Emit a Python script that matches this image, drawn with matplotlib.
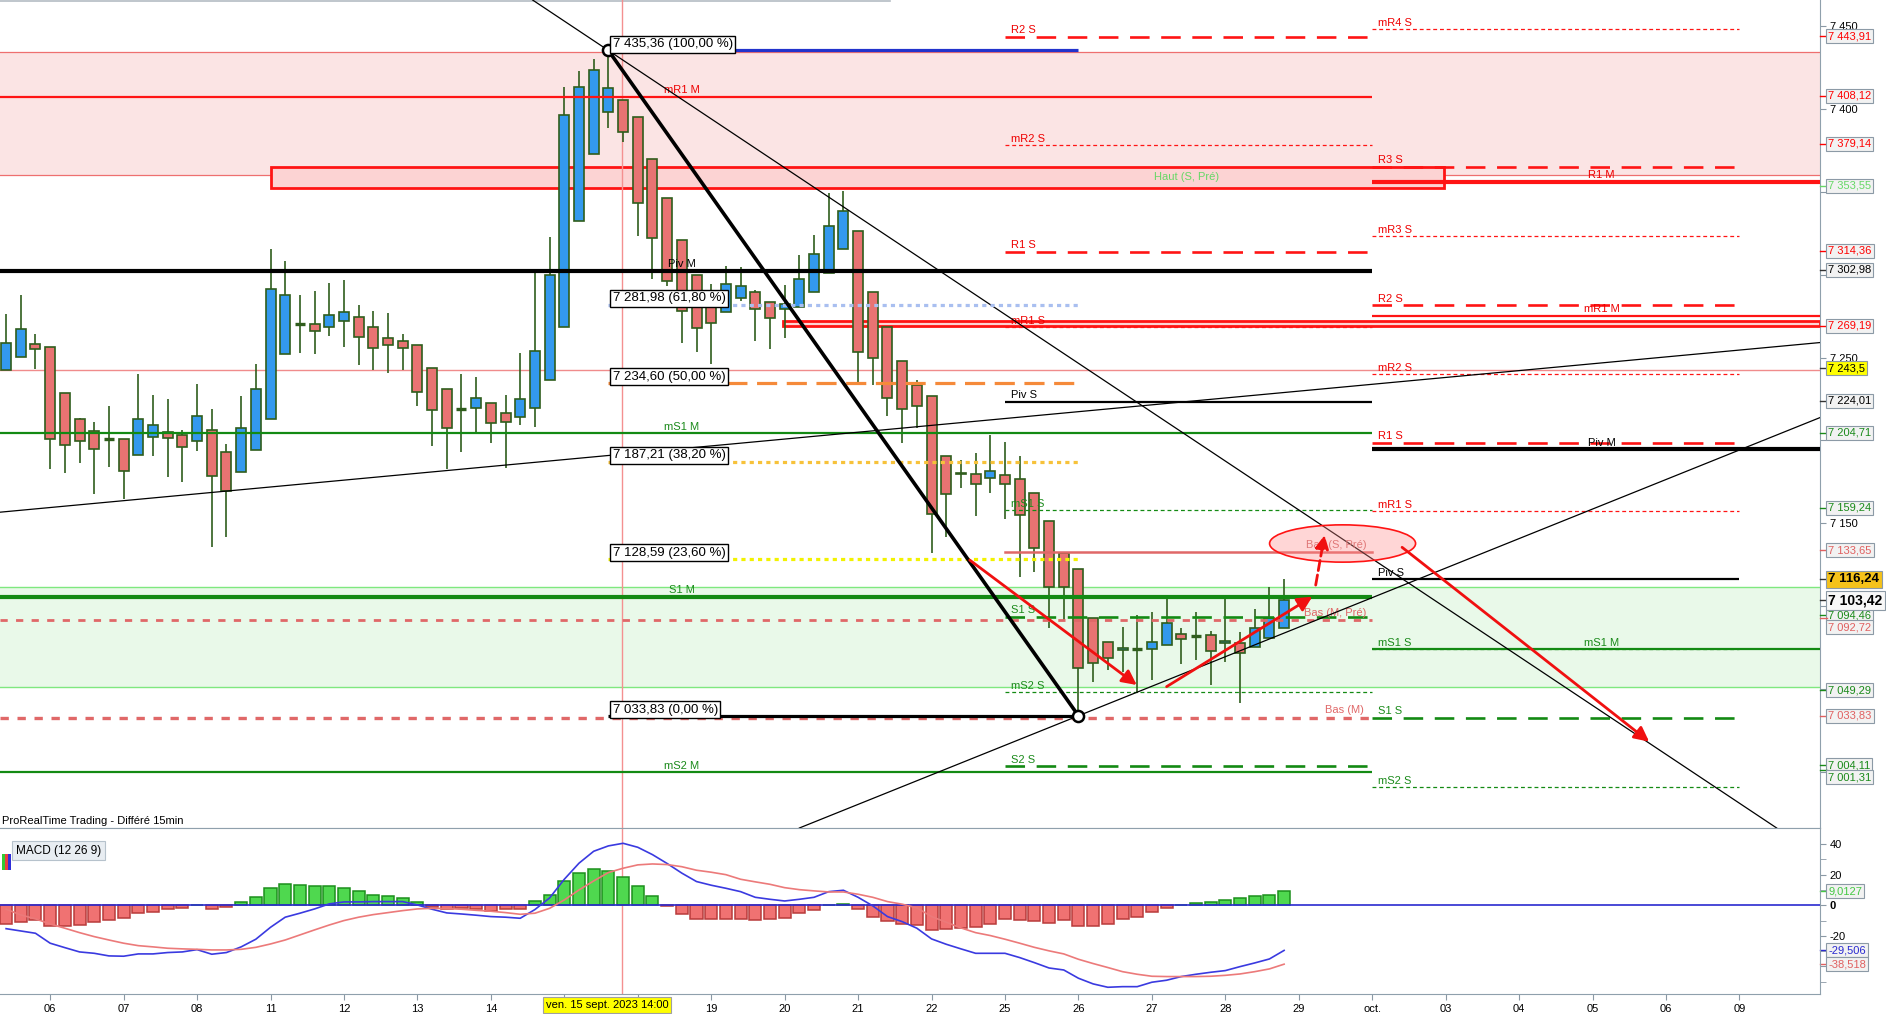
import numpy as np
import matplotlib
matplotlib.use("Agg")
import matplotlib.pyplot as plt
from matplotlib.patches import Rectangle, Ellipse
from matplotlib.transforms import blended_transform_factory as blend

plt.rcParams['font.family'] = ['Liberation Sans', 'DejaVu Sans']

# bougies : une barre = indice, 5 barres par jour
opens = [7242.5, 7250.1, 7258.4, 7256.6, 7228.4, 7212.7, 7205.9, 7200.8, 7200.6, 7191.0,
         7201.8, 7205.3, 7203.1, 7199.4, 7206.5, 7192.8, 7180.7, 7194.0, 7212.7, 7251.9,
         7270.2, 7270.0, 7268.2, 7271.8, 7274.3, 7268.2, 7261.6, 7259.8, 7257.4, 7243.5,
         7230.8, 7218.9, 7219.3, 7222.4, 7216.3, 7213.9, 7219.3, 7236.2, 7268.6, 7332.4,
         7372.7, 7398.2, 7405.4, 7395.4, 7369.6, 7346.1, 7320.9, 7299.6, 7281.3, 7277.3,
         7285.7, 7289.4, 7283.7, 7279.1, 7280.7, 7289.4, 7300.8, 7315.3, 7326.6, 7289.8,
         7268.6, 7247.7, 7233.2, 7226.6, 7190.6, 7179.5, 7179.9, 7177.1, 7178.9, 7176.5,
         7168.0, 7151.5, 7131.8, 7122.2, 7092.6, 7078.5, 7073.5, 7073.9, 7073.9, 7076.5,
         7082.9, 7081.9, 7082.3, 7077.5, 7077.9, 7075.5, 7080.5, 7086.6]
highs = [7276.1, 7287.7, 7264.2, 7256.6, 7228.4, 7213.3, 7210.9, 7220.8, 7200.6, 7240.1,
         7227.4, 7225.0, 7206.3, 7234.0, 7218.9, 7197.8, 7226.8, 7246.1, 7315.5, 7308.3,
         7287.7, 7290.2, 7295.0, 7296.8, 7281.7, 7278.1, 7277.1, 7264.0, 7257.4, 7243.5,
         7230.8, 7240.1, 7238.3, 7222.4, 7227.4, 7252.7, 7301.2, 7322.5, 7413.1, 7422.9,
         7430.0, 7435.36, 7405.4, 7395.4, 7369.6, 7346.1, 7320.9, 7299.6, 7294.4, 7305.2,
         7304.5, 7290.8, 7283.7, 7293.8, 7311.7, 7324.0, 7349.5, 7350.5, 7326.6, 7289.8,
         7268.6, 7247.7, 7236.4, 7226.6, 7190.6, 7188.2, 7192.2, 7203.1, 7199.0, 7190.8,
         7168.0, 7151.5, 7131.8, 7122.2, 7092.6, 7078.5, 7087.6, 7094.6, 7096.2, 7104.7,
         7086.6, 7096.6, 7085.2, 7104.7, 7084.6, 7098.0, 7111.7, 7116.24]
lows = [7242.5, 7250.1, 7242.9, 7182.5, 7180.5, 7186.2, 7167.4, 7184.1, 7164.6, 7191.0,
        7190.8, 7178.1, 7175.1, 7193.8, 7135.5, 7141.5, 7180.7, 7194.0, 7212.7, 7251.9,
        7252.9, 7252.3, 7263.2, 7256.6, 7245.5, 7242.5, 7240.9, 7242.5, 7221.0, 7196.8,
        7182.7, 7193.2, 7205.3, 7198.6, 7183.1, 7209.5, 7208.3, 7236.2, 7268.6, 7332.4,
        7372.7, 7388.8, 7380.0, 7323.6, 7297.2, 7293.0, 7258.6, 7253.6, 7245.9, 7277.3,
        7284.3, 7260.2, 7255.4, 7261.6, 7280.7, 7289.4, 7300.8, 7315.3, 7233.4, 7233.4,
        7214.7, 7198.2, 7207.3, 7132.2, 7141.9, 7171.5, 7154.6, 7168.4, 7152.4, 7117.8,
        7120.8, 7086.6, 7091.6, 7033.83, 7054.4, 7061.4, 7060.4, 7047.4, 7055.4, 7076.5,
        7065.0, 7067.5, 7052.4, 7066.5, 7041.3, 7075.5, 7080.5, 7086.6]
closes = [7258.6, 7267.0, 7255.2, 7200.6, 7197.0, 7199.4, 7194.6, 7200.8, 7181.3, 7212.7,
          7209.1, 7201.2, 7195.8, 7214.5, 7178.3, 7169.5, 7207.3, 7230.8, 7291.2, 7287.5,
          7270.2, 7265.8, 7275.5, 7277.3, 7262.2, 7255.6, 7257.4, 7255.8, 7229.0, 7218.1,
          7207.3, 7218.9, 7225.4, 7210.3, 7210.9, 7224.8, 7253.7, 7299.6, 7396.2, 7413.5,
          7423.3, 7412.5, 7386.3, 7343.1, 7321.9, 7296.2, 7278.1, 7267.6, 7270.6, 7294.2,
          7293.0, 7279.1, 7273.7, 7282.3, 7297.6, 7312.7, 7329.6, 7338.2, 7253.4, 7249.5,
          7225.4, 7218.7, 7220.8, 7155.6, 7167.4, 7180.5, 7173.5, 7181.3, 7173.5, 7155.0,
          7134.9, 7111.7, 7111.7, 7062.4, 7065.4, 7068.5, 7074.5, 7073.9, 7078.5, 7090.0,
          7079.9, 7081.9, 7072.9, 7079.1, 7071.9, 7086.6, 7092.6, 7103.42]

# MACD (12 26 9)
macd_line = [-15.3, -16.8, -18.3, -24.8, -27.7, -30.5, -31.4, -33.1, -33.3, -31.8,
             -31.8, -30.9, -30.5, -29.0, -32.0, -30.9, -27.2, -22.2, -14.4, -7.8,
             -5.2, -2.4, 0.9, 2.2, 2.2, 2.4, 2.4, 2.4, 0.2, -2.6,
             -5.0, -5.7, -6.5, -7.4, -7.8, -8.5, -2.8, 4.8, 17.0, 27.5,
             35.3, 38.8, 40.5, 37.9, 33.1, 27.3, 21.0, 15.5, 13.1, 11.1,
             8.9, 5.2, 3.9, 2.8, 3.9, 5.2, 8.9, 9.8, 5.2, -0.4,
             -7.4, -10.7, -15.0, -22.0, -25.5, -28.5, -31.4, -31.4, -31.4, -34.2,
             -37.5, -41.0, -42.3, -47.7, -51.4, -53.6, -53.2, -53.2, -50.3, -49.0,
             -46.6, -45.1, -43.8, -42.7, -40.1, -37.7, -35.1, -29.5]
signal_line = [-2.6, -6.3, -8.9, -12.2, -15.0, -17.9, -20.5, -22.7, -24.8, -26.4,
               -27.2, -28.1, -28.5, -28.8, -29.2, -29.2, -28.8, -27.5, -25.3, -22.7,
               -19.4, -16.1, -12.9, -10.0, -7.8, -6.1, -4.8, -3.5, -2.4, -2.0,
               -2.2, -2.6, -3.3, -3.9, -4.8, -5.9, -5.2, -2.0, 3.5, 10.0,
               15.9, 21.4, 24.2, 26.4, 27.0, 26.6, 25.2, 22.9, 21.6, 20.0,
               17.0, 15.3, 13.7, 11.5, 10.2, 9.4, 8.7, 8.7, 7.2, 5.2,
               2.4, 0.7, -1.7, -7.4, -11.1, -14.8, -17.9, -19.8, -22.2, -24.8,
               -27.5, -29.8, -31.8, -35.3, -38.1, -40.7, -43.4, -45.1, -46.4, -46.6,
               -46.6, -46.6, -46.4, -45.8, -44.9, -43.4, -41.6, -38.5]
macd_hist = [-12.4, -11.1, -9.6, -13.3, -13.3, -13.1, -11.1, -9.8, -8.5, -5.2,
             -4.6, -2.6, -2.0, 0.0, -2.6, -1.3, 2.2, 5.2, 11.1, 13.9,
             13.1, 12.6, 12.4, 11.1, 9.2, 6.5, 5.9, 4.6, 2.2, -1.1,
             -2.6, -2.0, -2.6, -3.5, -2.6, -2.6, 2.8, 6.5, 15.9, 20.9,
             23.5, 22.2, 18.3, 12.4, 5.9, -0.7, -5.9, -8.7, -8.7, -8.7,
             -8.7, -9.4, -8.7, -8.1, -5.2, -3.3, 0.0, 0.7, -2.6, -7.4,
             -10.5, -12.0, -12.6, -16.3, -15.7, -14.6, -13.9, -12.0, -9.2, -9.8,
             -10.5, -11.3, -9.8, -13.3, -13.3, -12.0, -9.2, -7.4, -4.1, -2.0,
             0.0, 1.3, 2.0, 3.3, 4.6, 5.9, 6.5, 9.0]

# jours (15 et 18 sont caches par l'etiquette du curseur)
day_labels = ['06', '07', '08', '11', '12', '13', '14', '', '', '19', '20', '21',
              '22', '25', '26', '27', '28', '29', 'oct.', '03', '04', '05', '06', '09']
first_day_bar = 3
bars_per_day = 5
cursor_bar = 41.9
cursor_text = 'ven. 15 sept. 2023 14:00'

# Fibonacci (du plus haut au plus bas)
fib_bars = [41, 73]
fib_prices = [7435.36, 7281.98, 7234.60, 7187.21, 7128.59, 7033.83]
fib_pcts = [100.0, 61.8, 50.0, 38.2, 23.6, 0.0]

# pivots mensuels / hebdomadaires
month_names_left = ['mR1 M', 'Piv M', 'mS1 M', 'S1 M', 'mS2 M']
month_levels_left = [7407.4, 7302.4, 7204.3, 7105.7, 7000.0]
month_names_right = ['R1 M', 'mR1 M', 'Piv M', 'mS1 M']
month_levels_right = [7356.1, 7275.3, 7194.6, 7074.1]
week_names_left = ['R2 S', 'mR2 S', 'R1 S', 'mR1 S', 'Piv S', 'mS1 S', 'S1 S', 'mS2 S', 'S2 S']
week_levels_left = [7443.6, 7378.3, 7313.9, 7268.3, 7223.4, 7158.0, 7093.6, 7047.9, 7003.3]
week_names_right = ['mR4 S', 'R3 S', 'mR3 S', 'R2 S', 'mR2 S', 'R1 S', 'mR1 S', 'Piv S',
                    'mS1 S', 'S1 S', 'mS2 S']
week_levels_right = [7448.1, 7365.2, 7323.4, 7281.7, 7240.1, 7198.6, 7157.2, 7116.2,
                     7074.1, 7032.7, 6990.6]
month_split = 93
week_start = 68
week_end = 118

bas_m = 7032.7
bas_m_pre = 7091.4
bas_s_pre = 7132.8
haut_s_pre = [7352.5, 7365.2]
haut_bars = [18, 97.9]
red_zone = [7269.0, 7272.2]
red_zone_start = 52.9
resist_zone = [7360.2, 7434.2]
support_zone = [7051.4, 7111.3]
thin_level = 7242.5

# droites de tendance (barre, prix)
trend_down = [(41, 7435.36), (118.7, 6976.9)]
trend_wedge = [(-0.4, 7156.7), (123.4, 7259.0)]
trend_up = [(73, 7033.83), (123.4, 7213.5)]

# fleches rouges
arrows = [((65.6, 7127.8), (76.97, 7052.4)),
          ((79.0, 7051.4), (88.92, 7105.7)),
          ((95.03, 7135.5), (111.85, 7018.2))]
dashed_arrow = ((89.15, 7112.7), (89.75, 7142.9))
ellipse_center = (90.98, 7137.8)
ellipse_size = (9.94, 22.5)

# etiquettes de l'axe des prix
axis_marks = [7443.91, 7408.12, 7379.14, 7353.55, 7314.36, 7302.98, 7269.19, 7243.5,
              7224.01, 7204.71, 7159.24, 7133.65, 7116.24, 7103.42, 7094.46, 7092.72,
              7049.29, 7033.83, 7004.11, 7001.31]
axis_kinds = ['r', 'r', 'r', 'h', 'r', 'k', 'r', 'y', 'k', 'g', 'g', 'p', 'o', 'last',
              'g', 'p', 'g', 'p', 'g', 'g']
price_ticks = [7000, 7050, 7100, 7150, 7200, 7250, 7300, 7350, 7400, 7450]
price_ticks_shown = [7150, 7250, 7400, 7450]
macd_marks = [9.0127, -29.506, -38.518]
macd_kinds = ['hist', 'macd', 'signal']

RED = '#ff1414'
GREEN = '#138a13'
PINK = '#e06868'
EDGE = '#2f5d1c'
BLUE_C = '#3399ee'
RED_C = '#e87372'


def fr(v, dec=2):
    return f"{v:,.{dec}f}".replace(',', ' ').replace('.', ',')


fig = plt.figure(figsize=(18.86, 10.14), dpi=100)
H = 1014.0
W = 1886.0
ax = fig.add_axes([0, 1 - 828 / H, 1820 / W, 828 / H])
ax2 = fig.add_axes([0, 1 - 994 / H, 1820 / W, 166 / H], sharex=ax)

x_left, x_right = -0.415, 123.48
ax.set_xlim(x_left, x_right)
ax.set_ylim(6966.1, 7465.8)
ax2.set_ylim(-58.0, 50.5)

# zones
ax.axhspan(*resist_zone, fc='#fbe4e4', ec='none', zorder=0)
ax.axhspan(*support_zone, fc='#e9f9e9', ec='none', zorder=0)
for y in resist_zone:
    ax.axhline(y, color='#ee6f6f', lw=0.9, zorder=1)
for y in support_zone:
    ax.axhline(y, color='#7fe87f', lw=1.0, zorder=1)
ax.axhline(thin_level, color='#f08c8c', lw=1.0, zorder=1)
ax.plot([x_left, 60.2], [7465.0, 7465.0], color='#b4bcc4', lw=1.2, zorder=1)

ax.add_patch(Rectangle((haut_bars[0], haut_s_pre[0]), haut_bars[1] - haut_bars[0],
                       haut_s_pre[1] - haut_s_pre[0], fc='#fcd3d3', ec=RED, lw=2, zorder=1.5))
ax.text((haut_bars[0] + haut_bars[1]) / 2 + 22.4, np.mean(haut_s_pre), 'Haut (S, Pré)',
        color='#66d866', fontsize=8, ha='center', va='center', zorder=6)
ax.add_patch(Rectangle((red_zone_start, red_zone[0]), x_right - red_zone_start,
                       red_zone[1] - red_zone[0], fc='#fcd3d3', ec=RED, lw=2, zorder=1.5))

# bougies
o, h, l, c = map(np.array, (opens, highs, lows, closes))
xs = np.arange(len(o))
up = c > o
dn = c < o
flat = c == o
ax.vlines(xs, l, h, color=EDGE, lw=1.2, zorder=3)
ax.bar(xs[up], (c - o)[up], bottom=o[up], width=0.68, color=BLUE_C, edgecolor=EDGE, lw=1.2, zorder=3.5)
ax.bar(xs[dn], (o - c)[dn], bottom=c[dn], width=0.68, color=RED_C, edgecolor=EDGE, lw=1.2, zorder=3.5)
ax.hlines(o[flat], xs[flat] - 0.34, xs[flat] + 0.34, color=EDGE, lw=2.4, zorder=3.5)


def level_style(name, period):
    if name.startswith('Piv'):
        col = 'black'
    elif name.lstrip('m').startswith('R'):
        col = RED
    else:
        col = GREEN
    mid = name.startswith('m')
    if period == 'M':
        return col, (1.6 if mid else 3.0), '-'
    if name.startswith('Piv'):
        return col, 1.6, '-'
    if mid:
        return col, 0.9, (0, (3.1, 2.3))
    return col, 1.9, (0, (7.4, 4.4))


def draw_levels(names, levels, x0, x1, period, label_x, ha):
    for name, y in zip(names, levels):
        col, lw, ls = level_style(name, period)
        ax.plot([x0, x1], [y, y], color=col, lw=lw, ls=ls, zorder=5,
                solid_capstyle='butt', dash_capstyle='butt')
        tcol = 'black' if col == 'black' else ('#ee0000' if col == RED else '#1a8a1a')
        ax.text(label_x, y + 0.8, name, color=tcol, fontsize=8, ha=ha, va='bottom', zorder=6)


draw_levels(month_names_left, month_levels_left, x_left, month_split, 'M', 46, 'center')
draw_levels(month_names_right, month_levels_right, month_split, x_right, 'M', 108.6, 'center')
draw_levels(week_names_left, week_levels_left, week_start, month_split, 'S', week_start + 0.4, 'left')
draw_levels(week_names_right, week_levels_right, month_split, week_end, 'S', month_split + 0.4, 'left')

ax.plot([x_left, month_split], [bas_m, bas_m], color=PINK, lw=2.4, ls=(0, (2.5, 2.6)), zorder=5)
ax.text(month_split - 0.6, bas_m + 1.5, 'Bas (M)', color=PINK, fontsize=8, ha='right', va='bottom', zorder=6)
ax.plot([x_left, month_split], [bas_m_pre, bas_m_pre], color=PINK, lw=2.0, ls=(0, (2.6, 3.0)), zorder=5)
ax.text(month_split - 0.4, bas_m_pre + 1.2, 'Bas (M, Pré)', color=PINK, fontsize=8, ha='right', va='bottom', zorder=6)
ax.plot([week_start, month_split], [bas_s_pre, bas_s_pre], color=PINK, lw=1.8, zorder=5)

# tendances
for p1, p2 in (trend_down, trend_wedge, trend_up):
    ax.axline(p1, p2, color='black', lw=0.9, zorder=6)

# Fibonacci
fib_styles = [('#2233cc', '-'), ('#a9bff0', (0, (1.3, 1.3))), ('#f58a3a', (0, (6.3, 3.0))),
              ('#f7c23a', (0, (1.3, 1.3))), ('#f2f200', (0, (1.3, 1.3))), ('black', '-')]
for y, pct, (col, ls) in zip(fib_prices, fib_pcts, fib_styles):
    ax.plot(fib_bars, [y, y], color=col, lw=2.3, ls=ls, zorder=6, solid_capstyle='butt')
    ax.annotate(f"{fr(y)} ({fr(pct)} %)", (fib_bars[0], y), xytext=(3, 4.5),
                textcoords='offset points', fontsize=9.5, ha='left', va='center', zorder=9,
                bbox=dict(boxstyle='square,pad=0.2', fc='white', ec='black', lw=1.0))
ax.plot(fib_bars, [fib_prices[0], fib_prices[-1]], color='black', lw=2.6, zorder=7)
ax.plot(fib_bars, [fib_prices[0], fib_prices[-1]], 'o', ms=8, mfc='white', mec='black',
        mew=1.8, zorder=8)

# fleches et ellipse
ax.add_patch(Ellipse(ellipse_center, *ellipse_size, fc=(1, 0.55, 0.55, 0.35), ec=RED,
                     lw=1.2, zorder=7))
ax.text(ellipse_center[0] - 0.4, ellipse_center[1] - 1, 'Bas (S, Pré)', color='#e07878',
        fontsize=8, ha='center', va='center', zorder=7.5)
for a, b in arrows:
    ax.annotate('', xy=b, xytext=a, zorder=8,
                arrowprops=dict(arrowstyle='-|>', color='#f01010', lw=2, mutation_scale=22,
                                shrinkA=0, shrinkB=0))
ax.annotate('', xy=dashed_arrow[1], xytext=dashed_arrow[0], zorder=8,
            arrowprops=dict(arrowstyle='-|>', color='#f01010', lw=2, ls='--', mutation_scale=20,
                            shrinkA=0, shrinkB=0))

# curseur
for a_ in (ax, ax2):
    a_.axvline(cursor_bar, color='#f49090', lw=1.0, zorder=2)

ax.text(0.001, 0.002, 'ProRealTime Trading - Différé 15min', transform=ax.transAxes,
        fontsize=8, ha='left', va='bottom', zorder=10)

# axe des prix
ax.yaxis.tick_right()
ax.set_yticks(price_ticks)
ax.set_yticklabels([fr(t, 0) if t in price_ticks_shown else '' for t in price_ticks])
ax.tick_params(axis='y', labelsize=8, length=4, color='#8a98a4', pad=3)
ax.tick_params(axis='x', bottom=False, labelbottom=False)
for s in ('left', 'top'):
    ax.spines[s].set_visible(False)
ax.spines['right'].set_color('#8fa0ac')
ax.spines['bottom'].set_color('#aab6c0')

kind_style = {
    'r': ('#f2f2f2', '#ff0000', False, 8),
    'g': ('#f2f2f2', '#1a8a1a', False, 8),
    'h': ('#f2f2f2', '#66d866', False, 8),
    'p': ('#f2f2f2', '#e06060', False, 8),
    'k': ('#f2f2f2', 'black', False, 8),
    'y': ('#ffff00', 'black', False, 8),
    'o': ('#f5c21a', 'black', True, 9.5),
    'last': ('#f8f8f8', 'black', True, 10),
}
tr = blend(ax.transAxes, ax.transData)
prev = None
for v, k in sorted(zip(axis_marks, axis_kinds), key=lambda t: -t[0]):
    y = v if prev is None else min(v, prev - 7.3)
    prev = y
    fc, tc, bold, size = kind_style[k]
    dec = 1 if k == 'y' else 2
    z = 12 if k == 'last' else 11
    ax.plot([1.0, 1.004], [v, v], transform=tr, color=tc if tc != 'black' else '#333333',
            lw=1, clip_on=False, zorder=z)
    ax.text(1.0045, y, fr(v, dec), transform=tr, ha='left', va='center', fontsize=size,
            color=tc, fontweight='bold' if bold else 'normal', clip_on=False, zorder=z,
            bbox=dict(boxstyle='square,pad=0.18', fc=fc, ec='#8c9aa6', lw=0.8))

# MACD
hist = np.array(macd_hist)
ax2.bar(xs[hist >= 0], hist[hist >= 0], width=0.82, color='#4fd84f', edgecolor='#1c8f1c', lw=1.1, zorder=2)
ax2.bar(xs[hist < 0], hist[hist < 0], width=0.82, color='#f07272', edgecolor='#b83a3a', lw=1.1, zorder=2)
ax2.axhline(0, color='#2a2ad0', lw=1.2, zorder=3)
ax2.plot(xs, macd_line, color='#3a3ae0', lw=1.2, zorder=4)
ax2.plot(xs, signal_line, color='#ec7a7a', lw=1.2, zorder=4)

ax2.yaxis.tick_right()
ax2.set_yticks([40, 20, 0, -20, -40])
ax2.set_yticklabels(['40', '20', '0', '-20', ''])
ax2.set_yticks([30, 10, -10, -30, -50], minor=True)
ax2.tick_params(axis='y', which='both', labelsize=8, length=4, color='#8a98a4', pad=3)
ax2.get_yticklabels()[2].set_fontweight('bold')
ax2.spines['left'].set_visible(False)
for s in ('right', 'top', 'bottom'):
    ax2.spines[s].set_color('#8fa0ac')

tr2 = blend(ax2.transAxes, ax2.transData)
macd_style = {'hist': '#44c844', 'macd': '#2a2ad0', 'signal': '#e06060'}
for v, k in zip(macd_marks, macd_kinds):
    ax2.plot([1.0, 1.004], [v, v], transform=tr2, color=macd_style[k], lw=1, clip_on=False)
    ax2.text(1.0045, v, fr(v, 4 if abs(v) < 10 else 3), transform=tr2, ha='left', va='center',
             fontsize=8, color=macd_style[k], clip_on=False, zorder=11,
             bbox=dict(boxstyle='square,pad=0.18', fc='#f2f2f2', ec='#8c9aa6', lw=0.8))

ax2.text(0.0088, 0.9, 'MACD (12 26 9)', transform=ax2.transAxes, fontsize=8.5, ha='left',
         va='top', zorder=10,
         bbox=dict(boxstyle='square,pad=0.3', fc='#e8edf2', ec='#b6c2cc', lw=0.8))
for j, col in enumerate(['#33cc33', '#e84040', '#3030d8']):
    ax2.add_patch(Rectangle((0.0012 + j * 0.0017, 0.745), 0.0016, 0.1, transform=ax2.transAxes,
                            fc=col, ec='none', zorder=11))

# axe du temps
day_pos = [first_day_bar + bars_per_day * k for k in range(len(day_labels))]
ax2.set_xticks(day_pos)
ax2.set_xticklabels(day_labels)
ax2.tick_params(axis='x', labelsize=8, length=4, color='#8a98a4', pad=3)
ax2.text(cursor_bar - 1.0, -0.066, cursor_text, transform=blend(ax2.transData, ax2.transAxes),
         fontsize=8, ha='center', va='center', clip_on=False, zorder=12,
         bbox=dict(boxstyle='square,pad=0.25', fc='#ffff00', ec='#a0a0a0', lw=0.8))

fig.savefig('out.png', dpi=100, facecolor='white')
